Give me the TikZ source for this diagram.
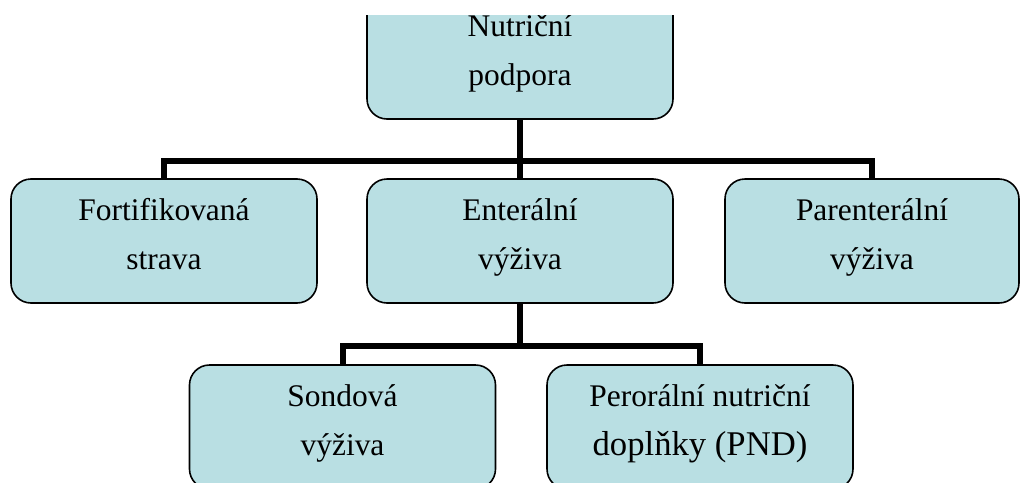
\documentclass[tikz,border=0pt]{standalone}
\usepackage{fontspec}
\setmainfont{Liberation Serif}
\definecolor{boxfill}{RGB}{185,223,227}
\begin{document}
\begin{tikzpicture}[x=0.75pt,y=-0.75pt,
  box/.style={draw=black, line width=1.2pt, fill=boxfill, rounded corners=15pt,
    minimum width=229.5pt, minimum height=93pt, align=center, inner sep=0pt,
    font=\fontsize{23.6}{36.75}\selectfont, text height=60pt, text depth=18pt},
  conn/.style={line width=4.5pt, line join=miter}]
\useasboundingbox (0,0) rectangle (1021,482);
\clip (0,15) rectangle (1021,482);
\node[box] (top) at (520,57) {Nutriční\\podpora};
\node[box] (fort) at (164,241) {Fortifikovaná\\strava};
\node[box] (ent) at (520,241) {Enterální\\výživa};
\node[box, minimum width=220.5pt] (par) at (872,241) {Parenterální\\výživa};
\node[box] (sond) at (342.5,427) {Sondová\\výživa};
\node[box] (pnd) at (700,427) {Perorální nutriční\\{\fontsize{26}{36.75}\selectfont doplňky (PND)}};
\coordinate (j1) at (520,161);
\coordinate (j2) at (520,345.5);
\draw[conn] (top.south) -- (ent.north);
\draw[conn] (fort.north) |- (j1) -| (par.north);
\draw[conn] (ent.south) -- (j2);
\draw[conn] (sond.north) |- (j2) -| (pnd.north);
\end{tikzpicture}
\end{document}
